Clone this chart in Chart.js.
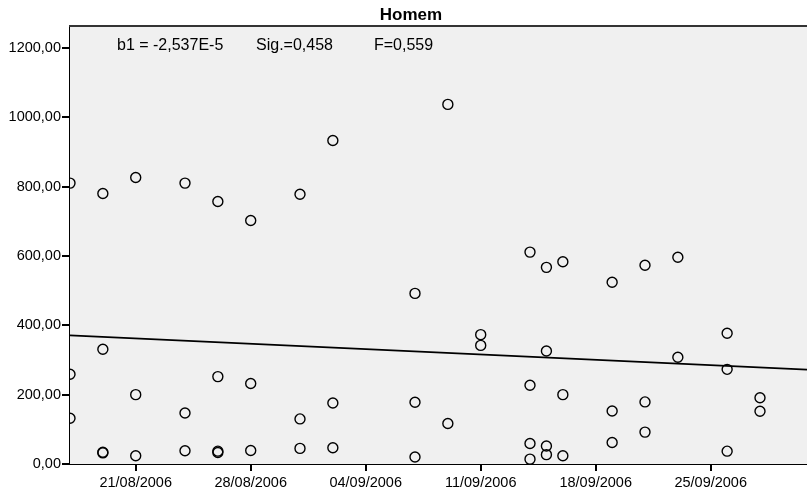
<!DOCTYPE html>
<html>
<head>
<meta charset="utf-8">
<script src="https://cdn.jsdelivr.net/npm/chart.js@4/dist/chart.umd.min.js"></script>
<style>
html,body{margin:0;padding:0;background:#fff;}
#wrap{width:807px;height:495px;position:relative;}
</style>
</head>
<body>
<div id="wrap"><canvas id="c" width="807" height="495"></canvas></div>
<script>
// ---- data ----
const chartTitle = "Homem";
const pointDates = [
  "17/08/2006","17/08/2006","17/08/2006",
  "19/08/2006","19/08/2006","19/08/2006","19/08/2006",
  "21/08/2006","21/08/2006","21/08/2006",
  "24/08/2006","24/08/2006","24/08/2006",
  "26/08/2006","26/08/2006","26/08/2006","26/08/2006",
  "28/08/2006","28/08/2006","28/08/2006",
  "31/08/2006","31/08/2006","31/08/2006",
  "02/09/2006","02/09/2006","02/09/2006",
  "07/09/2006","07/09/2006","07/09/2006",
  "09/09/2006","09/09/2006",
  "11/09/2006","11/09/2006",
  "14/09/2006","14/09/2006","14/09/2006","14/09/2006",
  "15/09/2006","15/09/2006","15/09/2006","15/09/2006",
  "16/09/2006","16/09/2006","16/09/2006",
  "19/09/2006","19/09/2006","19/09/2006",
  "21/09/2006","21/09/2006","21/09/2006",
  "23/09/2006","23/09/2006",
  "26/09/2006","26/09/2006","26/09/2006",
  "28/09/2006","28/09/2006"
];
const pointValues = [
  810, 259, 132,
  780, 331, 34, 32,
  826, 200, 24,
  810, 147, 38,
  757, 252, 37, 33,
  702, 232, 39,
  778, 130, 45,
  933, 176, 47,
  492, 178, 20,
  1037, 117,
  373, 342,
  611, 227, 59, 14,
  567, 326, 52, 27,
  583, 200, 24,
  524, 153, 62,
  573, 179, 92,
  596, 308,
  377, 273, 37,
  191, 152
];
const fitLineDates = ["17/08/2006 00:00", "30/09/2006 20:40"];
const fitLineValues = [371, 272];
const xTickLabels = ["21/08/2006","28/08/2006","04/09/2006","11/09/2006","18/09/2006","25/09/2006"];
const yTickValues = [0, 200, 400, 600, 800, 1000, 1200];
const annotations = ["b1 = -2,537E-5", "Sig.=0,458", "F=0,559"];

// ---- helpers ----
function parseDate(s){
  const [d, t] = s.split(" ");
  const [dd, mm, yy] = d.split("/").map(Number);
  let h = 0, mi = 0;
  if (t) { [h, mi] = t.split(":").map(Number); }
  return Date.UTC(yy, mm - 1, dd, h, mi);
}
function fmtDate(ms){
  const d = new Date(ms);
  const p = n => String(n).padStart(2, "0");
  return p(d.getUTCDate()) + "/" + p(d.getUTCMonth() + 1) + "/" + d.getUTCFullYear();
}
const pts = pointDates.map((d, i) => ({x: parseDate(d), y: pointValues[i]}));
const linePts = fitLineDates.map((d, i) => ({x: parseDate(d), y: fitLineValues[i]}));
const xTicks = xTickLabels.map(parseDate);

const FONT = "'Liberation Sans', Arial, sans-serif";

const decor = {
  id: "decor",
  beforeDatasetsDraw(chart){
    const {ctx, chartArea: a} = chart;
    ctx.save();
    ctx.fillStyle = "#f0f0f0";
    ctx.fillRect(a.left, a.top, a.right - a.left, a.bottom - a.top);
    ctx.restore();
  },
  afterDraw(chart){
    const {ctx, chartArea: a} = chart;
    ctx.save();
    ctx.strokeStyle = "#333";
    ctx.lineWidth = 2;
    ctx.beginPath();
    ctx.moveTo(a.left - 1, a.top);
    ctx.lineTo(a.right, a.top);
    ctx.stroke();
    ctx.fillStyle = "#000";
    ctx.textBaseline = "alphabetic";
    ctx.textAlign = "center";
    ctx.font = "bold 17px " + FONT;
    ctx.fillText(chartTitle, 411, 20);
    ctx.textAlign = "left";
    ctx.font = "16px " + FONT;
    const xs = [117, 256, 374];
    annotations.forEach((t, i) => ctx.fillText(t, xs[i], 50));
    ctx.restore();
  }
};

new Chart(document.getElementById("c"), {
  type: "scatter",
  data: {
    datasets: [
      {
        type: "line",
        data: linePts,
        borderColor: "#000",
        borderWidth: 1.6,
        pointRadius: 0,
        fill: false,
        clip: 0,
        order: 2
      },
      {
        data: pts,
        pointRadius: 5,
        pointHoverRadius: 5,
        pointBorderWidth: 1.4,
        pointBorderColor: "#000",
        pointBackgroundColor: "rgba(0,0,0,0)",
        showLine: false,
        clip: 0,
        order: 1
      }
    ]
  },
  plugins: [decor],
  options: {
    responsive: false,
    animation: false,
    events: [],
    layout: {autoPadding: false, padding: {top: 26, right: 0, left: 0, bottom: 0}},
    plugins: {legend: {display: false}, title: {display: false}, tooltip: {enabled: false}},
    scales: {
      x: {
        type: "linear",
        min: parseDate(fitLineDates[0]),
        max: parseDate(fitLineDates[1]),
        afterBuildTicks: s => { s.ticks = xTicks.map(v => ({value: v})); },
        afterFit: s => { s.height = 31; },
        border: {display: true, color: "#000", width: 2},
        grid: {drawOnChartArea: false, drawTicks: true, tickLength: 7, color: "#000", lineWidth: 2},
        ticks: {
          color: "#000", font: {family: FONT, size: 14.5}, padding: 3,
          maxRotation: 0, autoSkip: false,
          callback: v => fmtDate(v)
        }
      },
      y: {
        type: "linear",
        min: 0,
        max: 1263,
        afterBuildTicks: s => { s.ticks = yTickValues.map(v => ({value: v})); },
        afterFit: s => { s.width = 70; },
        border: {display: true, color: "#000", width: 2},
        grid: {drawOnChartArea: false, drawTicks: true, tickLength: 8, color: "#000", lineWidth: 2},
        ticks: {
          color: "#000", font: {family: FONT, size: 14.5}, padding: 1,
          callback: v => Number(v).toFixed(2).replace(".", ",")
        }
      }
    }
  }
});
</script>
</body>
</html>
